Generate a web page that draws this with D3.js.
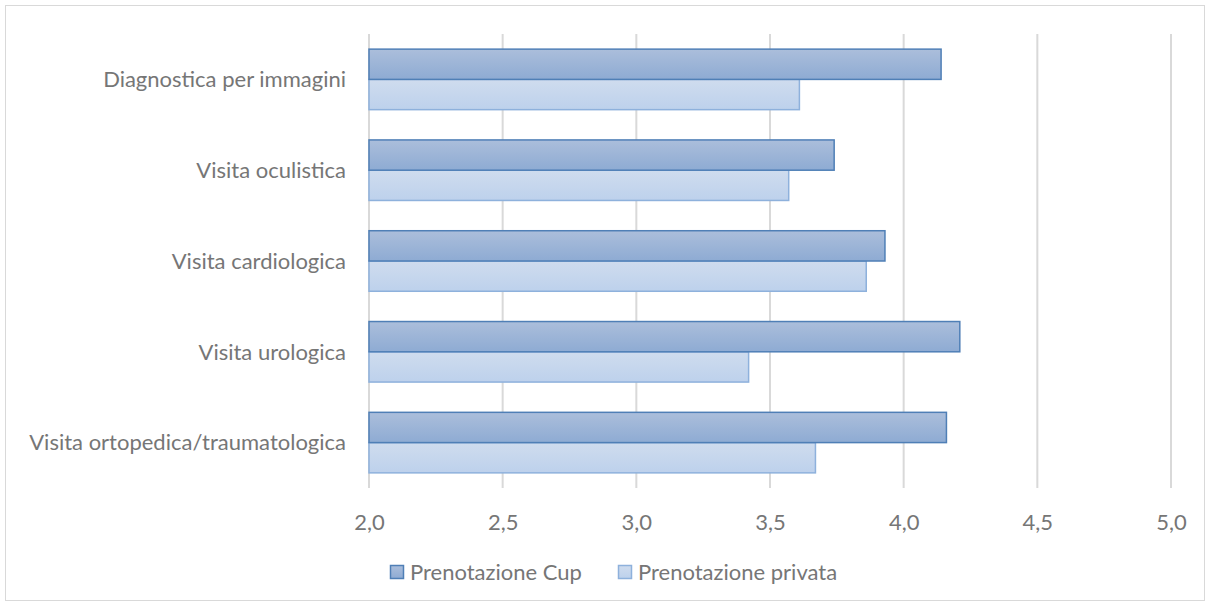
<!DOCTYPE html>
<html><head><meta charset="utf-8">
<script src="https://cdn.jsdelivr.net/npm/d3@7"></script>
<style>body{margin:0;background:#fff}svg{display:block}text{font-family:Lato,sans-serif;fill:#767676}</style>
</head><body><svg id="c" width="1210" height="606"></svg>
<script>
const categories = ["Diagnostica per immagini","Visita oculistica","Visita cardiologica","Visita urologica","Visita ortopedica/traumatologica"];
const seriesNames = ["Prenotazione Cup","Prenotazione privata"];
const cupValues = [4.14,3.74,3.93,4.21,4.16];
const privataValues = [3.61,3.57,3.86,3.42,3.67];
const tickValues = [2.0,2.5,3.0,3.5,4.0,4.5,5.0];

const svg = d3.select("#c");
const defs = svg.append("defs");
function grad(id, c1, c2){
  const g = defs.append("linearGradient").attr("id",id).attr("x1",0).attr("y1",0).attr("x2",0).attr("y2",1);
  g.append("stop").attr("offset","0%").attr("stop-color",c1);
  g.append("stop").attr("offset","100%").attr("stop-color",c2);
}
grad("gCup","#abbedb","#8eabd3");
grad("gPriv","#cfdcee","#bdd1ec");
const fills=["url(#gCup)","url(#gPriv)"], strokes=["#4f7fb6","#8eb1dc"];

svg.append("rect").attr("x",5.5).attr("y",5.5).attr("width",1199).attr("height",595).attr("fill","#fff").attr("stroke","#d9d9d9");

const x = d3.scaleLinear().domain([2,5]).range([369,1171]);
const y = d3.scaleBand().domain(categories).range([34,488]).paddingInner(1/3).paddingOuter(1/6);
const y1 = d3.scaleBand().domain(seriesNames).range([0,y.bandwidth()]);

svg.append("g").selectAll("line").data(tickValues).join("line")
  .attr("x1",d=>x(d)).attr("x2",d=>x(d)).attr("y1",34).attr("y2",488)
  .attr("stroke","#d9d9d9").attr("stroke-width",2);

const data = categories.map((c,i)=>({c, v:[cupValues[i],privataValues[i]]}));
const g = svg.append("g");
[1,0].forEach(s=>{
  g.selectAll(".b"+s).data(data).join("rect").attr("class","b"+s)
   .attr("x",x(2)).attr("y",d=>y(d.c)+y1(seriesNames[s]))
   .attr("width",d=>x(d.v[s])-x(2)).attr("height",y1.bandwidth())
   .attr("fill",fills[s]).attr("stroke",strokes[s]).attr("stroke-width",1.5);
});

svg.append("g").selectAll("text").data(categories).join("text")
  .attr("x",346).attr("y",d=>y(d)+y.bandwidth()/2).attr("dy","0.35em")
  .attr("text-anchor","end").attr("font-size",22).text(d=>d);

const xa = d3.axisBottom(x).tickValues(tickValues).tickFormat(d=>d3.format(".1f")(d).replace(".",",")).tickSize(0).tickPadding(0);
const ax = svg.append("g").attr("transform","translate(0,488)").call(xa);
ax.select(".domain").remove();
ax.selectAll("text").attr("y",34).attr("dy","0.35em").attr("font-size",22).style("font-family","Lato,sans-serif").attr("fill","#767676");

const leg = svg.append("g");
const lx=[390,618];
seriesNames.forEach((n,i)=>{
  leg.append("rect").attr("x",lx[i]+0.5).attr("y",565.5).attr("width",13).attr("height",13)
    .attr("fill",fills[i]).attr("stroke",strokes[i]).attr("stroke-width",1.5);
  leg.append("text").attr("x",lx[i]+20).attr("y",572).attr("dy","0.35em").attr("font-size",22).text(n);
});
</script></body></html>
